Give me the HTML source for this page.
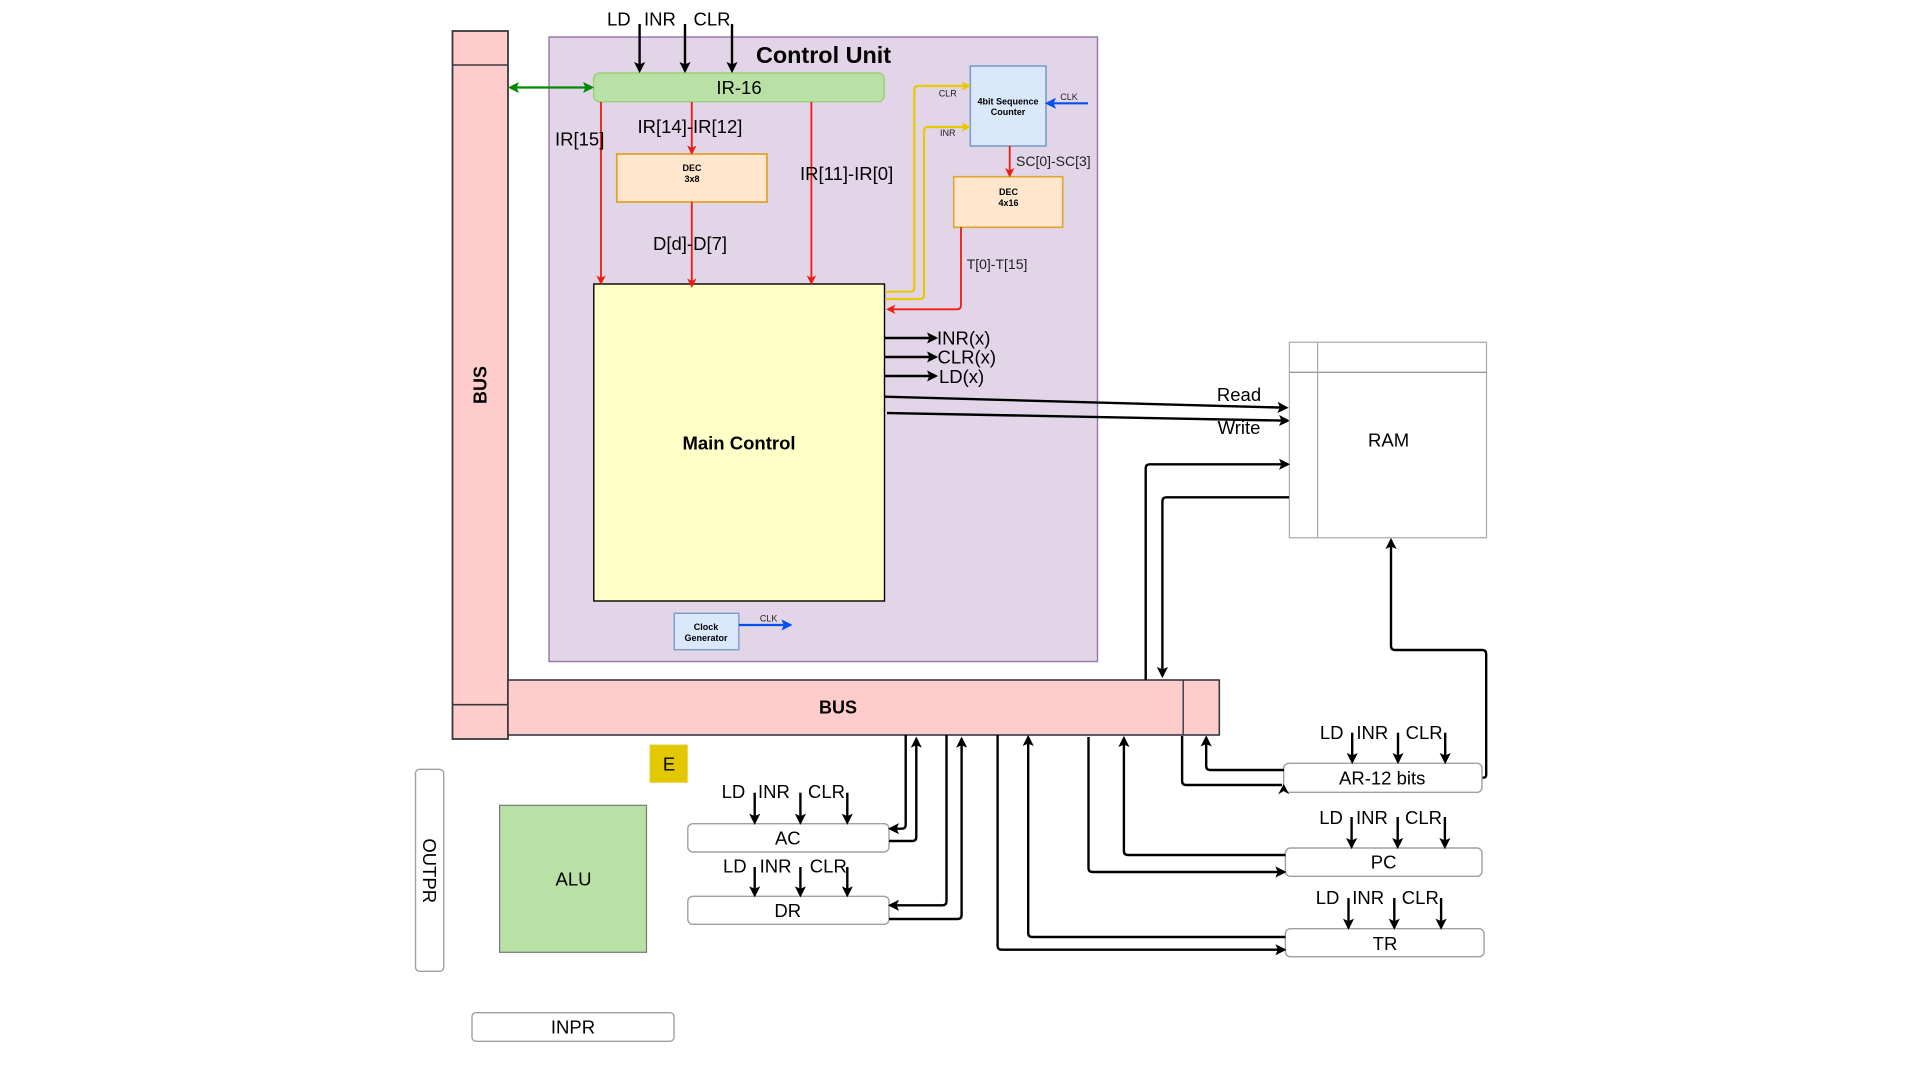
<!DOCTYPE html>
<html>
<head>
<meta charset="utf-8">
<title>Basic Computer Diagram</title>
<style>
html,body{margin:0;padding:0;background:#fff;width:1920px;height:1080px;overflow:hidden}
svg{display:block}
text{font-family:"Liberation Sans",sans-serif;fill:#000}
.l{font-size:18.5px}
.m{font-size:14px;fill:#222}
.s{font-size:9px;fill:#222}
.b{font-size:9px;font-weight:bold}
.c{text-anchor:middle}
.B{font-size:18px;font-weight:bold}
.k,.r,.y,.g,.bl{fill:none;stroke-linejoin:round}
.k{stroke:#000;stroke-width:2.4;marker-end:url(#mk)}
.kn{stroke:#000;stroke-width:2.4;fill:none}
.r{stroke:#ee1c10;stroke-width:1.8;marker-end:url(#mr)}
.y{stroke:#e8c800;stroke-width:2.2;marker-end:url(#my)}
.bl{stroke:#0050ef;stroke-width:2.2;marker-end:url(#mb)}
.reg{fill:#fff;stroke:#a0a0a0;stroke-width:1.4}
</style>
</head>
<body>
<svg width="1920" height="1080" viewBox="0 0 1920 1080" xmlns="http://www.w3.org/2000/svg">
<defs>
<marker id="mk" viewBox="-10 -6 12 12" refX="-1" refY="0" markerUnits="userSpaceOnUse" markerWidth="12" markerHeight="12" orient="auto"><path d="M-9-4.5L0 0L-9 4.5L-7 0Z" fill="#000" stroke="#000"/></marker>
<marker id="mr" viewBox="-10 -6 12 12" refX="-1" refY="0" markerUnits="userSpaceOnUse" markerWidth="11" markerHeight="11" orient="auto"><path d="M-8-4L0 0L-8 4L-6 0Z" fill="#ee1c10" stroke="#ee1c10"/></marker>
<marker id="my" viewBox="-10 -6 12 12" refX="-1" refY="0" markerUnits="userSpaceOnUse" markerWidth="11" markerHeight="11" orient="auto"><path d="M-8-4L0 0L-8 4L-6 0Z" fill="#e8c800" stroke="#e8c800"/></marker>
<marker id="mb" viewBox="-10 -6 12 12" refX="-1" refY="0" markerUnits="userSpaceOnUse" markerWidth="12" markerHeight="12" orient="auto"><path d="M-9-4.5L0 0L-9 4.5L-7 0Z" fill="#0050ef" stroke="#0050ef"/></marker>
<marker id="mg" viewBox="-10 -6 12 12" refX="-1" refY="0" markerUnits="userSpaceOnUse" markerWidth="12" markerHeight="12" orient="auto-start-reverse"><path d="M-9-4.5L0 0L-9 4.5L-7 0Z" fill="#008a00" stroke="#008a00"/></marker>
</defs>

<!-- Control unit -->
<rect x="549" y="37" width="548.5" height="624.5" fill="#e1d5e7" stroke="#9673a6" stroke-width="1.4"/>
<text x="823.5" y="63" class="c" style="font-size:23.4px;font-weight:bold">Control Unit</text>

<!-- Bus -->
<rect x="452.5" y="31" width="55.5" height="708" fill="#ffcccc" stroke="#36393d" stroke-width="1.8"/>
<line x1="452.5" y1="65" x2="508" y2="65" stroke="#36393d" stroke-width="1.6"/>
<line x1="452.5" y1="704.7" x2="508" y2="704.7" stroke="#36393d" stroke-width="1.6"/>
<text transform="translate(486.5,385) rotate(-90)" class="B c">BUS</text>
<rect x="508" y="680" width="711.3" height="55" fill="#ffcccc" stroke="#36393d" stroke-width="1.6"/>
<line x1="1183.2" y1="680" x2="1183.2" y2="735" stroke="#36393d" stroke-width="1.4"/>
<text x="838" y="713.5" class="B c">BUS</text>

<!-- IR -->
<rect x="593.6" y="73" width="290.5" height="28.7" rx="6" fill="#b9e0a5" stroke="#97d077" stroke-width="1.4"/>
<text x="739" y="94" class="l c">IR-16</text>
<path d="M510 87.5H592" fill="none" stroke="#008a00" stroke-width="2.2" marker-start="url(#mg)" marker-end="url(#mg)"/>
<text x="607" y="25.5" class="l">LD</text><text x="644" y="25.5" class="l">INR</text><text x="693.5" y="25.5" class="l">CLR</text>
<path class="k" d="M639.6 24V71"/><path class="k" d="M685 24V71"/><path class="k" d="M732 24V71"/>

<!-- Main control -->
<rect x="593.8" y="284" width="290.7" height="317" fill="#ffffc8" stroke="#000" stroke-width="1.4"/>
<text x="739" y="449.5" class="c" style="font-size:18.5px;font-weight:bold">Main Control</text>

<!-- DEC 3x8 -->
<rect x="616.8" y="154" width="150.2" height="48" fill="#ffe6cc" stroke="#e0a530" stroke-width="1.8"/>
<text x="692" y="171" class="b c">DEC</text><text x="692" y="182" class="b c">3x8</text>

<!-- reds -->
<path class="r" d="M601 102V283"/>
<path class="r" d="M691.8 102V153"/>
<path class="r" d="M691.8 202V286"/>
<path class="r" d="M811.4 102V283"/>
<text x="555" y="145.5" class="l">IR[15]</text>
<text x="637.5" y="133" class="l">IR[14]-IR[12]</text>
<text x="800" y="180" class="l">IR[11]-IR[0]</text>
<text x="653" y="250" class="l">D[d]-D[7]</text>

<!-- Sequence counter -->
<rect x="970.3" y="66" width="75.7" height="80" fill="#dae8fc" stroke="#7c9cc9" stroke-width="1.6"/>
<text x="1008" y="104.5" class="b c">4bit Sequence</text><text x="1008" y="115" class="b c">Counter</text>
<path class="bl" d="M1088 103.3H1047"/>
<text x="1069" y="100" class="s c">CLK</text>
<rect x="953.7" y="176.7" width="109" height="50.6" fill="#ffe6cc" stroke="#e0a530" stroke-width="1.6"/>
<text x="1008.5" y="195" class="b c">DEC</text><text x="1008.5" y="206" class="b c">4x16</text>
<path class="r" d="M1009.7 146V175.5"/>
<text x="1016" y="166" class="m">SC[0]-SC[3]</text>
<path class="y" d="M885 291.7H910.3Q914.3 291.7 914.3 287.7V90Q914.3 86 918.3 86H969"/>
<path class="y" d="M885 299H920Q924 299 924 295V131Q924 127 928 127H969"/>
<text x="947.7" y="96.3" class="s c">CLR</text>
<text x="947.7" y="136" class="s c">INR</text>
<path class="r" d="M961 227.3V305Q961 309.3 957 309.3H888"/>
<text x="966.7" y="269" class="m">T[0]-T[15]</text>

<!-- Outputs -->
<path class="k" d="M885 338H936"/><path class="k" d="M885 357H936"/><path class="k" d="M885 376H936"/>
<text x="937" y="344.5" class="l">INR(x)</text>
<text x="937.5" y="363.5" class="l">CLR(x)</text>
<text x="939" y="383" class="l">LD(x)</text>
<path class="k" d="M884.5 396.7L1286.5 407.7"/>
<path class="k" d="M887 413L1288 420.7"/>
<text x="1239" y="401" class="l c">Read</text>
<text x="1239" y="434" class="l c">Write</text>

<!-- Clock -->
<rect x="674.3" y="613.3" width="64.5" height="36.4" fill="#dae8fc" stroke="#7c9cc9" stroke-width="1.4"/>
<text x="706" y="630" class="b c">Clock</text><text x="706" y="641" class="b c">Generator</text>
<path class="bl" d="M739 625H790.4"/>
<text x="768.6" y="621.5" class="s c">CLK</text>

<!-- RAM -->
<rect x="1289.4" y="342.3" width="197.1" height="195.4" fill="#fff" stroke="#b0b0b0" stroke-width="1.3"/>
<line x1="1289.4" y1="372.3" x2="1486.5" y2="372.3" stroke="#777" stroke-width="1"/>
<line x1="1317.6" y1="342.3" x2="1317.6" y2="537.7" stroke="#aaa" stroke-width="1.2"/>
<text x="1388.6" y="446.5" class="l c">RAM</text>
<path class="k" d="M1145.7 680V468.3Q1145.7 464.3 1149.7 464.3H1288"/>
<path class="kn" d="M1289 497.3H1166.4Q1162.4 497.3 1162.4 501.3V600"/>
<path class="k" d="M1162.4 600V676"/>
<path class="kn" d="M1482 777.7H1483Q1486.2 777.7 1486.2 774.7V654Q1486.2 650 1482.2 650H1395Q1391 650 1391 646V600"/>
<path class="k" d="M1391 600V540"/>

<!-- AR -->
<rect x="1283.7" y="763.3" width="198.3" height="29" rx="5" class="reg"/>
<text x="1382.2" y="784.5" class="l c">AR-12 bits</text>
<text x="1319.9" y="738.8" class="l">LD</text><text x="1356.4" y="738.8" class="l">INR</text><text x="1405.6" y="738.8" class="l">CLR</text>
<path class="k" d="M1352.2 732.7V762"/><path class="k" d="M1398 732.7V762"/><path class="k" d="M1445.2 732.7V762"/>
<path class="k" d="M1284 770H1210.2Q1206.2 770 1206.2 766V737.5"/>
<path class="kn" d="M1182.1 736V781Q1182.1 785 1186.1 785H1282"/>
<path d="M1283.7 785L1288 793L1283.7 790.5L1279.4 793Z" fill="#000" stroke="#000"/>

<!-- PC -->
<rect x="1285.4" y="848" width="196.6" height="28.3" rx="5" class="reg"/>
<text x="1383.6" y="868.5" class="l c">PC</text>
<text x="1319.2" y="823.8" class="l">LD</text><text x="1356" y="823.8" class="l">INR</text><text x="1405" y="823.8" class="l">CLR</text>
<path class="k" d="M1351.6 817V847"/><path class="k" d="M1397.7 817V847"/><path class="k" d="M1444.9 817V847"/>
<path class="k" d="M1285.4 855H1127.9Q1123.9 855 1123.9 851V738"/>
<path class="k" d="M1088.5 737V868Q1088.5 872 1092.5 872H1284.4"/>

<!-- TR -->
<rect x="1285.4" y="928.7" width="198.7" height="28" rx="5" class="reg"/>
<text x="1385" y="949.8" class="l c">TR</text>
<text x="1315.7" y="903.8" class="l">LD</text><text x="1352.3" y="903.8" class="l">INR</text><text x="1401.8" y="903.8" class="l">CLR</text>
<path class="k" d="M1348.5 898V927.7"/><path class="k" d="M1394.3 898V927.7"/><path class="k" d="M1441.1 898V927.7"/>
<path class="k" d="M1285.4 937H1032.2Q1028.2 937 1028.2 933V737"/>
<path class="k" d="M997.6 735V945.7Q997.6 949.7 1001.6 949.7H1284.4"/>

<!-- AC -->
<rect x="687.8" y="823.7" width="201.2" height="28.3" rx="5" class="reg"/>
<text x="787.8" y="844.5" class="l c">AC</text>
<text x="721.6" y="798" class="l">LD</text><text x="758" y="798" class="l">INR</text><text x="808" y="798" class="l">CLR</text>
<path class="k" d="M754.7 792.7V822.7"/><path class="k" d="M800.4 792.7V822.7"/><path class="k" d="M847.3 792.7V822.7"/>
<path class="k" d="M905.7 735V824.7Q905.7 828.7 901.7 828.7H890"/>
<path class="k" d="M889 841H912.3Q916.3 841 916.3 837V738.7"/>

<!-- DR -->
<rect x="687.8" y="896.3" width="201.2" height="28" rx="5" class="reg"/>
<text x="787.8" y="917.2" class="l c">DR</text>
<text x="723" y="872.3" class="l">LD</text><text x="759.6" y="872.3" class="l">INR</text><text x="809.8" y="872.3" class="l">CLR</text>
<path class="k" d="M754.7 867V895.3"/><path class="k" d="M800.4 867V895.3"/><path class="k" d="M847.3 867V895.3"/>
<path class="k" d="M946.5 735V901.3Q946.5 905.3 942.5 905.3H890"/>
<path class="k" d="M889 919H957.6Q961.6 919 961.6 915V738.7"/>

<!-- E, ALU, OUTPR, INPR -->
<rect x="649.7" y="744.7" width="38" height="38" fill="#e3c800" stroke="#ece08a" stroke-width="0.8"/>
<text x="669" y="770.5" class="l c">E</text>
<rect x="499.6" y="805.3" width="146.9" height="147" fill="#b9e0a5" stroke="#777" stroke-width="1.2"/>
<text x="573.5" y="885.5" class="l c">ALU</text>
<rect x="415.5" y="769.3" width="28.2" height="202" rx="4" class="reg"/>
<text transform="translate(423,870.7) rotate(90)" class="l c">OUTPR</text>
<rect x="472" y="1012.7" width="202" height="28.6" rx="4" class="reg"/>
<text x="573" y="1033.5" class="l c">INPR</text>
</svg>
</body>
</html>
